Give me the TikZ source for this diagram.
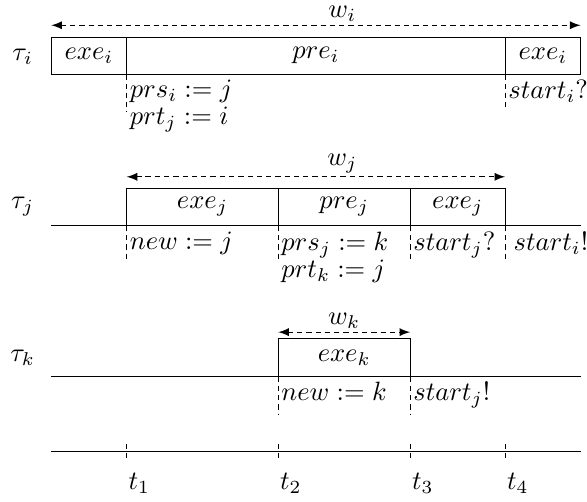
\documentclass[tikz,border=0pt]{standalone}
\usetikzlibrary{arrows}
\begin{document}
\begin{tikzpicture}[>=latex,
    tline/.style={dash pattern=on 2pt off 1.5pt},
    memo/.style={anchor=north west, inner xsep=1pt, inner ysep=2pt, align=left},
    wlabel/.style={above, inner sep=1.2pt}]
    % 边界
    \useasboundingbox (0,0) rectangle (7.785,6.645);

    % 绘制任务 tau_i
    \node (taui) at (0.30,5.89) {$\tau_i$};
    \draw (0.68,5.66) rectangle (7.70,6.15);
    \draw (1.68,5.66) -- (1.68,6.15);
    \draw (6.70,5.66) -- (6.70,6.15);
    \node (exei1) at (1.18,5.905) {$exe_i$};
    \node (prei) at (4.19,5.905) {$pre_i$};
    \node (exei2) at (7.20,5.905) {$exe_i$};
    \draw[<->,tline] (0.68,6.31) -- (7.70,6.31);
    \node[wlabel] (wi) at (4.54,6.31) {$w_i$};
    \draw[tline] (1.68,5.66) -- (1.68,5.16);
    \draw[tline] (6.70,5.66) -- (6.70,5.18);
    \node[memo] (prsi) at (1.68,5.66) {$prs_i := j$\\[-1.8pt]$prt_j := i$};
    \node[memo] (starti1) at (6.70,5.66) {$start_i?$};

    % 绘制任务 tau_j
    \node (tauj) at (0.30,3.90) {$\tau_j$};
    \draw (0.68,3.65) -- (7.70,3.65);
    \draw (1.68,3.65) rectangle (6.70,4.15);
    \draw (3.69,3.65) -- (3.69,4.15);
    \draw (5.44,3.65) -- (5.44,4.15);
    \node (exej1) at (2.685,3.90) {$exe_j$};
    \node (prej) at (4.565,3.90) {$pre_j$};
    \node (exej2) at (6.07,3.90) {$exe_j$};
    \draw[<->,tline] (1.68,4.30) -- (6.70,4.30);
    \node[wlabel] (wj) at (4.54,4.30) {$w_j$};
    \foreach \x in {1.68,3.69,5.44,6.70}
        \draw[tline] (\x,3.65) -- (\x,3.16);
    \node[memo] (newj) at (1.68,3.65) {$new := j$};
    \node[memo] (prsj) at (3.69,3.65) {$prs_j := k$\\[-1.8pt]$prt_k := j$};
    \node[memo] (startj1) at (5.44,3.65) {$start_j?$};
    \node[memo,xshift=2pt] (starti2) at (6.70,3.65) {$start_i!$};

    % 绘制任务 tau_k
    \node (tauk) at (0.30,1.90) {$\tau_k$};
    \draw (0.68,1.65) -- (7.70,1.65);
    \draw (3.69,1.65) rectangle (5.44,2.15);
    \node (exek) at (4.565,1.90) {$exe_k$};
    \draw[<->,tline] (3.69,2.24) -- (5.44,2.24);
    \node[wlabel] (wk) at (4.565,2.24) {$w_k$};
    \draw[tline] (3.69,1.65) -- (3.69,1.14);
    \draw[tline] (5.44,1.65) -- (5.44,1.14);
    \node[memo] (newk) at (3.69,1.65) {$new := k$};
    \node[memo] (startj2) at (5.44,1.65) {$start_j!$};

    % 绘制时间轴
    \draw (0.68,0.657) -- (7.70,0.657);
    \foreach \x/\n in {1.68/1,3.69/2,5.44/3,6.70/4}
        \draw[tline] (\x,0.76) -- (\x,0.52)
            node[anchor=north west, inner xsep=0.5pt, inner ysep=4pt] (t\n) {$t_\n$};
\end{tikzpicture}
\end{document}
